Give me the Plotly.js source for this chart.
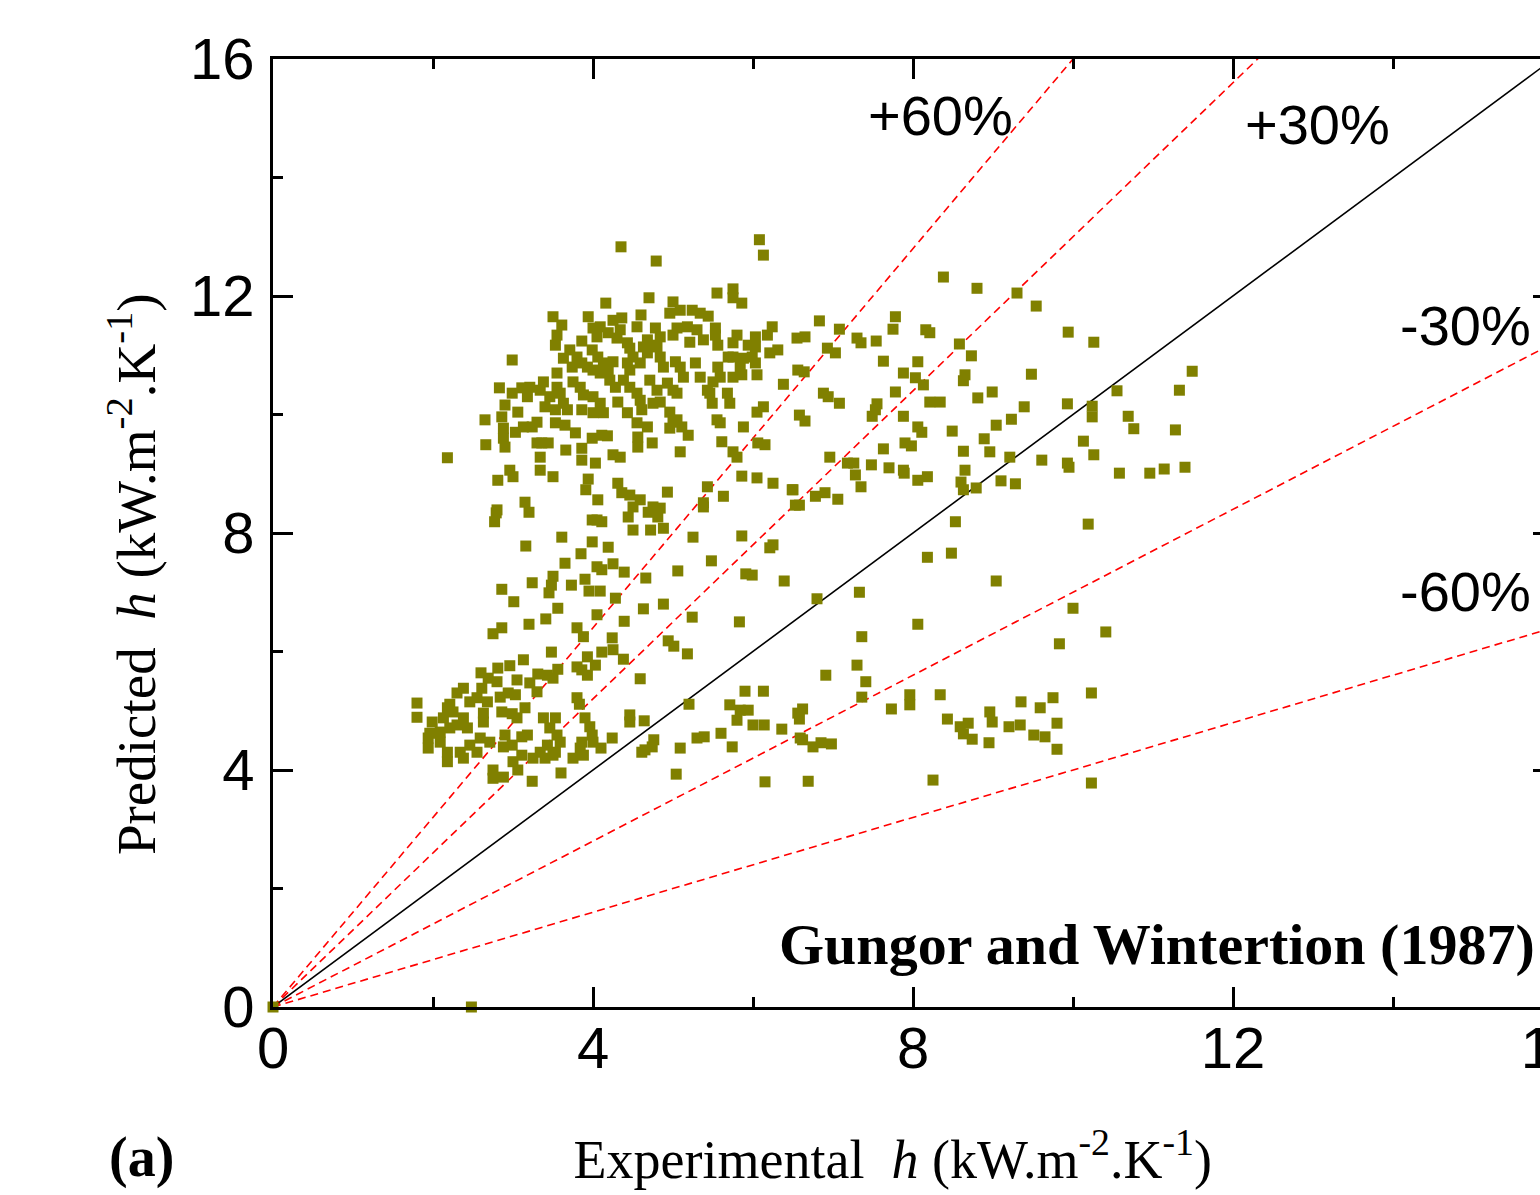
<!DOCTYPE html>
<html>
<head>
<meta charset="utf-8">
<script src="https://cdn.plot.ly/plotly-3.0.1.min.js"></script>
<style>
html,body{margin:0;padding:0;overflow:hidden;background:#fff;}
#chart{width:1600px;height:1195px;}
</style>
</head>
<body>
<div id="chart"></div>
<script>
// Experimental h (x) vs Predicted h (y), kW m^-2 K^-1
const expH = [
8.38,8.80,9.30,9.54,6.83,7.78,7.75,7.08,6.55,6.65,7.30,7.35,7.54,8.16,8.21,9.94,10.26,6.93,7.03,8.58,
8.73,7.63,8.06,6.64,7.88,8.03,8.13,8.65,8.63,9.48,11.49,11.33,10.55,6.88,6.94,7.08,7.78,8.99,8.81,8.21,
8.34,7.55,7.53,7.49,6.58,6.65,7.88,9.39,9.93,10.24,10.24,10.69,10.76,11.28,8.06,8.11,8.49,9.04,9.23,8.89,
7.63,7.90,7.98,8.63,8.96,9.21,10.13,10.26,6.96,7.18,7.26,7.28,7.48,7.70,7.88,7.89,8.06,8.18,8.65,8.60,
8.63,8.79,9.10,9.28,9.61,9.93,9.95,10.58,10.96,11.14,11.40,7.35,6.50,6.58,6.78,6.90,7.06,
8.53,10.19,8.18,8.48,9.04,7.33,6.80,10.00,8.06,10.41,9.83,7.36,7.30,7.41,7.36,6.91,6.62,6.58,7.73,7.96,
7.96,8.34,8.43,8.59,8.69,8.63,8.74,8.96,8.99,8.95,9.20,9.34,9.35,9.59,9.75,9.51,9.65,9.80,9.80,10.23,
6.62,6.75,6.85,6.98,6.69,8.25,10.23,
2.79,2.77,3.20,4.05,4.11,3.99,4.44,4.50,4.69,4.81,4.72,4.88,5.38,3.61,3.16,3.99,4.19,3.85,5.25,5.86,
6.25,6.21,3.65,4.05,4.11,4.25,4.39,5.48,3.50,3.48,3.45,3.24,2.86,3.73,3.90,3.95,4.09,4.66,5.06,5.91,
5.99,6.39,3.01,4.28,3.56,4.63,4.88,3.41,3.20,4.05,4.39,5.24,5.83,2.86,2.75,3.80,3.88,4.24,4.94,5.01,
5.18,3.48,3.13,2.96,2.60,2.81,3.93,3.80,3.86,3.93,4.11,4.03,4.25,4.38,4.59,3.56,3.50,3.43,3.31,3.21,
3.30,2.69,2.80,3.05,3.03,2.94,2.61,2.55,2.38,2.30,2.21,2.46,2.68,2.84,1.80,1.80,3.80,3.83,2.86,2.99,
3.15,3.05,2.63,2.63,2.18,2.25,2.13,2.38,2.30,1.99,1.96,2.09,2.21,2.43,1.94,1.94,2.09,2.18,2.18,2.34,
2.38,2.46,2.55,2.59,2.71,2.90,2.88,2.99,3.11,3.18,3.38,3.53,3.46,3.55,3.59,3.43,3.53,3.34,3.25,3.40,
3.50,3.11,3.00,3.06,2.75,2.75,2.88,3.24,3.60,3.90,3.96,3.99,3.86,4.00,3.84,3.75,3.88,4.10,4.24,4.46,
4.46,4.64,5.20,4.76,4.65,4.61,4.74,5.09,5.04,5.30,5.39,5.60,5.74,5.71,5.84,5.94,5.80,5.90,6.13,6.00,
6.14,6.36,6.56,6.59,6.15,
4.35,4.79,6.08,6.13,4.16,4.70,5.55,5.75,5.86,5.75,3.50,3.61,3.94,3.55,3.53,3.86,4.00,4.09,4.05,4.19,
4.25,4.36,4.34,4.30,4.43,4.60,4.55,4.78,4.84,4.75,4.68,5.00,4.96,5.09,5.24,5.34,5.44,5.05,5.00,5.18,
5.21,5.30,5.38,5.53,5.53,5.56,5.80,5.75,6.03,6.18,6.24,6.31,6.21,6.03,5.94,2.99,3.63,3.71,3.80,3.74,
3.86,3.93,3.99,4.06,4.13,4.19,4.25,4.09,4.00,4.46,4.50,4.43,4.46,4.59,4.63,4.68,4.80,4.84,4.88,5.03,
5.09,5.13,5.28,5.34,5.56,5.59,5.50,5.43,5.69,5.75,5.88,5.99,6.03,5.84,5.75,5.86,6.05,6.38,6.56,2.83,
2.99,2.90,3.06,3.11,3.21,3.18,3.38,3.34,3.46,3.40,3.55,3.55,3.59,3.63,3.53,3.75,3.84,3.88,3.68,3.86,
4.00,4.09,4.13,4.00,4.21,4.28,4.31,4.38,4.46,4.43,4.55,4.59,4.61,4.71,4.80,4.84,4.75,4.93,5.00,5.05,
4.96,5.00,2.65,2.66,2.18,2.86,2.88,2.88,2.90,3.03,3.13,3.24,3.30,3.30,3.36,3.44,3.34,3.53,3.65,3.78,
3.66,3.86,3.86,4.03,3.99,4.11,4.18,4.25,4.34,4.56,4.56,4.74,4.55,4.68,5.09,4.96,5.05,5.11,5.19,2.81,
2.96,3.00,3.34,3.50,3.15,2.80,3.94,3.91,4.06,4.31,4.36,4.46,4.59,4.50,4.75,4.84,4.93,5.43,5.63,5.38,
5.86,6.05,6.25,6.49,6.53,5.55,5.61,5.75,5.80,5.88,6.05,6.13,6.06,6.15,5.49,5.46,5.68,5.71,5.59,
0.00,2.48
];
const predH = [
12.32,12.13,12.05,11.83,11.58,11.65,11.44,11.44,11.29,11.31,11.29,11.21,11.24,11.43,11.38,11.39,11.22,11.12,11.04,11.19,
10.99,10.90,10.89,10.72,10.70,10.62,10.50,10.67,10.57,10.68,10.73,10.41,10.40,10.36,10.30,10.19,10.38,10.38,10.28,10.21,
10.21,10.18,10.08,9.97,9.99,9.89,9.97,10.13,10.18,10.14,9.96,9.97,9.76,9.74,9.79,9.70,9.72,9.82,9.92,9.59,
9.42,9.52,9.47,9.38,9.37,9.28,9.55,9.32,9.28,9.18,9.18,8.98,9.15,9.10,9.06,9.01,8.89,8.95,9.06,8.86,
8.73,8.76,8.88,8.83,9.23,9.18,9.11,9.01,9.01,9.08,9.11,8.78,8.73,8.47,8.62,8.68,8.57,
8.19,8.15,7.59,7.66,7.19,7.00,6.89,6.73,6.46,6.33,6.13,6.25,5.77,5.49,5.23,5.60,5.03,4.86,5.03,5.27,
5.10,5.27,4.86,4.73,4.79,4.61,4.52,4.98,4.81,4.46,4.73,4.76,5.15,5.05,5.22,4.59,4.56,4.79,4.35,5.30,
4.51,4.39,4.46,4.44,3.81,3.83,3.78,
8.34,8.19,8.35,8.22,8.19,8.22,8.27,8.05,8.35,8.27,8.05,8.08,8.44,7.93,7.78,7.85,7.76,7.65,7.93,7.95,
7.80,7.75,7.49,7.43,7.38,7.48,7.34,7.53,7.27,7.12,6.99,7.16,7.05,7.12,7.22,7.02,7.02,7.24,7.36,7.31,
7.29,7.19,6.84,6.90,6.73,6.72,6.80,6.55,6.46,6.62,6.51,6.58,6.50,6.40,6.30,6.40,6.25,6.23,6.18,6.09,
5.96,5.99,5.86,5.76,5.64,5.72,5.91,5.74,5.69,5.60,5.99,5.77,6.03,5.87,5.54,5.70,5.55,5.60,5.62,5.47,
5.32,5.55,5.49,5.52,5.27,5.30,5.38,5.22,5.38,5.30,5.11,5.15,5.15,5.23,5.13,4.89,5.22,5.11,4.98,4.95,
5.05,4.88,4.96,4.81,5.05,4.98,4.88,4.88,4.76,4.81,4.62,4.64,4.71,4.71,4.54,4.37,4.47,4.30,4.14,4.30,
4.20,4.42,4.30,4.54,4.47,4.59,4.39,4.42,4.56,4.59,4.88,4.88,4.71,4.59,4.47,4.42,4.30,4.30,4.20,4.20,
4.25,4.25,4.14,4.00,4.00,3.86,3.88,3.81,3.95,4.88,4.73,4.59,4.47,4.47,4.37,4.20,4.25,4.37,4.54,4.93,
4.81,4.83,5.11,4.51,4.34,4.30,4.39,4.37,3.93,4.54,4.56,4.62,4.39,5.10,5.01,5.01,4.84,5.33,5.33,4.76,
4.76,4.69,4.96,4.54,3.80,
12.83,12.59,12.95,12.69,11.88,11.97,12.05,12.12,11.88,11.97,11.65,11.51,11.65,11.34,11.17,11.24,11.46,11.48,11.31,11.38,
11.59,11.63,11.43,11.29,11.21,11.68,11.48,11.46,11.31,11.17,11.26,11.90,11.71,11.76,11.76,11.71,11.66,11.46,11.34,11.48,
11.22,11.43,11.26,11.46,11.34,11.17,11.34,11.21,11.31,11.34,11.48,11.09,11.04,11.14,11.17,10.92,10.95,11.09,10.97,10.80,
10.87,10.80,11.09,10.97,10.87,10.75,10.89,10.70,10.75,11.12,10.97,10.87,10.75,10.87,11.14,11.04,11.14,10.97,10.80,10.89,
10.80,10.63,10.87,10.63,10.80,10.63,10.55,10.41,10.97,10.97,10.95,10.97,10.87,10.80,10.63,10.67,10.67,10.51,10.75,10.45,
10.36,10.16,10.04,10.45,10.46,10.30,10.55,10.41,10.30,10.13,10.70,10.46,10.36,10.19,10.08,10.55,10.46,10.33,10.08,10.08,
10.30,10.19,10.03,10.03,10.58,10.46,10.21,10.58,10.46,10.03,10.36,10.24,10.08,10.58,10.41,10.21,10.19,10.53,10.41,10.36,
10.04,9.87,9.91,9.49,9.27,9.96,9.77,9.60,9.45,9.70,9.79,9.79,9.87,9.52,9.52,9.52,9.28,9.86,9.82,9.69,
9.40,9.43,9.23,9.18,9.60,9.65,9.64,9.32,9.28,9.62,9.45,9.52,9.86,9.79,9.37,9.77,9.91,9.79,9.65,8.89,
9.06,8.95,9.06,8.95,8.52,8.39,8.91,8.73,8.56,8.84,8.68,8.64,8.56,8.44,8.44,8.42,8.69,8.78,8.62,8.51,
8.96,8.93,8.84,8.73,8.47,9.91,9.54,9.37,9.28,9.79,10.04,10.13,9.52,9.49,10.19,10.36,10.36,10.19,9.86,
0.00,0.00
];

// Reference lines: predicted = ratio * experimental
const refX = [0, 16];
const refRatios = [1.6, 1.3, 1.0, 0.7, 0.4];
const refLabels = ["+60%", "+30%", "", "-30%", "-60%"];

// Axis ticks
const tickVals = [0, 4, 8, 12, 16];
const tickText = ["0", "4", "8", "12", "16"];

const traces = [];
refRatios.forEach((r, i) => {
  const solid = r === 1.0;
  traces.push({
    x: refX,
    y: refX.map(v => v * r),
    type: 'scatter',
    mode: 'lines',
    name: solid ? 'y = x' : refLabels[i],
    line: solid ? {color: '#000000', width: 1.6} : {color: '#ff0000', width: 1.6, dash: '8px,5px'},
    hoverinfo: 'skip',
    showlegend: false,
    cliponaxis: true
  });
});
traces.push({
  x: expH,
  y: predH,
  type: 'scatter',
  mode: 'markers',
  name: 'Gungor and Wintertion (1987)',
  marker: {symbol: 'square', size: 11, color: '#808000', line: {width: 0}},
  cliponaxis: false,
  showlegend: false
});

const axisCommon = {
  showgrid: false,
  zeroline: false,
  showline: true,
  linecolor: '#000',
  linewidth: 3,
  mirror: 'ticks',
  ticks: 'inside',
  ticklen: 20,
  tickwidth: 3,
  tickcolor: '#000',
  tickvals: tickVals,
  ticktext: tickText,
  tickfont: {family: 'Liberation Sans, Arial, sans-serif', size: 58, color: '#000'},
  minor: {dtick: 2, ticks: 'inside', ticklen: 10, tickwidth: 3, tickcolor: '#000', showgrid: false},
  automargin: false
};

const sansFont = {family: 'Liberation Sans, Arial, sans-serif', size: 56, color: '#000'};
const serifFont = {family: 'Liberation Serif, Times New Roman, serif', size: 58, color: '#000'};

const layout = {
  width: 1600,
  height: 1195,
  margin: {l: 273, r: 47, t: 59, b: 188},
  paper_bgcolor: '#fff',
  plot_bgcolor: '#fff',
  showlegend: false,
  xaxis: Object.assign({}, axisCommon, {
    range: [0, 16],
    ticklabelstandoff: -12,
    title: {
      text: 'Experimental&nbsp; <i>h</i> (kW.m<sup>-2</sup>.K<sup>-1</sup>)&nbsp;&nbsp;&nbsp;',
      font: {family: 'Liberation Serif, Times New Roman, serif', size: 54, color: '#000'},
      standoff: 62
    }
  }),
  yaxis: Object.assign({}, axisCommon, {
    range: [0, 16],
    ticklabelstandoff: 4,
    title: {
      text: 'Predicted&nbsp; <i>h</i> (kW.m<sup>-2</sup>.K<sup>-1</sup>)&nbsp;&nbsp;&nbsp;&nbsp;&nbsp;&nbsp;',
      font: {family: 'Liberation Serif, Times New Roman, serif', size: 55, color: '#000'},
      standoff: 17
    }
  }),
  annotations: [
    {x: 8.34, y: 15.05, xref: 'x', yref: 'y', xanchor: 'center', yanchor: 'middle', text: '+60%', showarrow: false, font: sansFont},
    {x: 13.06, y: 14.89, xref: 'x', yref: 'y', xanchor: 'center', yanchor: 'middle', text: '+30%', showarrow: false, font: sansFont},
    {x: 14.9, y: 11.51, xref: 'x', yref: 'y', xanchor: 'center', yanchor: 'middle', text: '-30%', showarrow: false, font: sansFont},
    {x: 14.9, y: 7.02, xref: 'x', yref: 'y', xanchor: 'center', yanchor: 'middle', text: '-60%', showarrow: false, font: sansFont},
    {x: 11.05, y: 1.05, xref: 'x', yref: 'y', xanchor: 'center', yanchor: 'middle', text: '<b>Gungor and Wintertion (1987)</b>', showarrow: false, font: serifFont},
    {x: -0.103, y: -0.159, xref: 'paper', yref: 'paper', xanchor: 'center', yanchor: 'middle', text: '<b>(a)</b>', showarrow: false,
     font: {family: 'Liberation Serif, Times New Roman, serif', size: 56, color: '#000'}}
  ]
};

Plotly.newPlot('chart', traces, layout, {displayModeBar: false, staticPlot: true});
</script>
</body>
</html>
